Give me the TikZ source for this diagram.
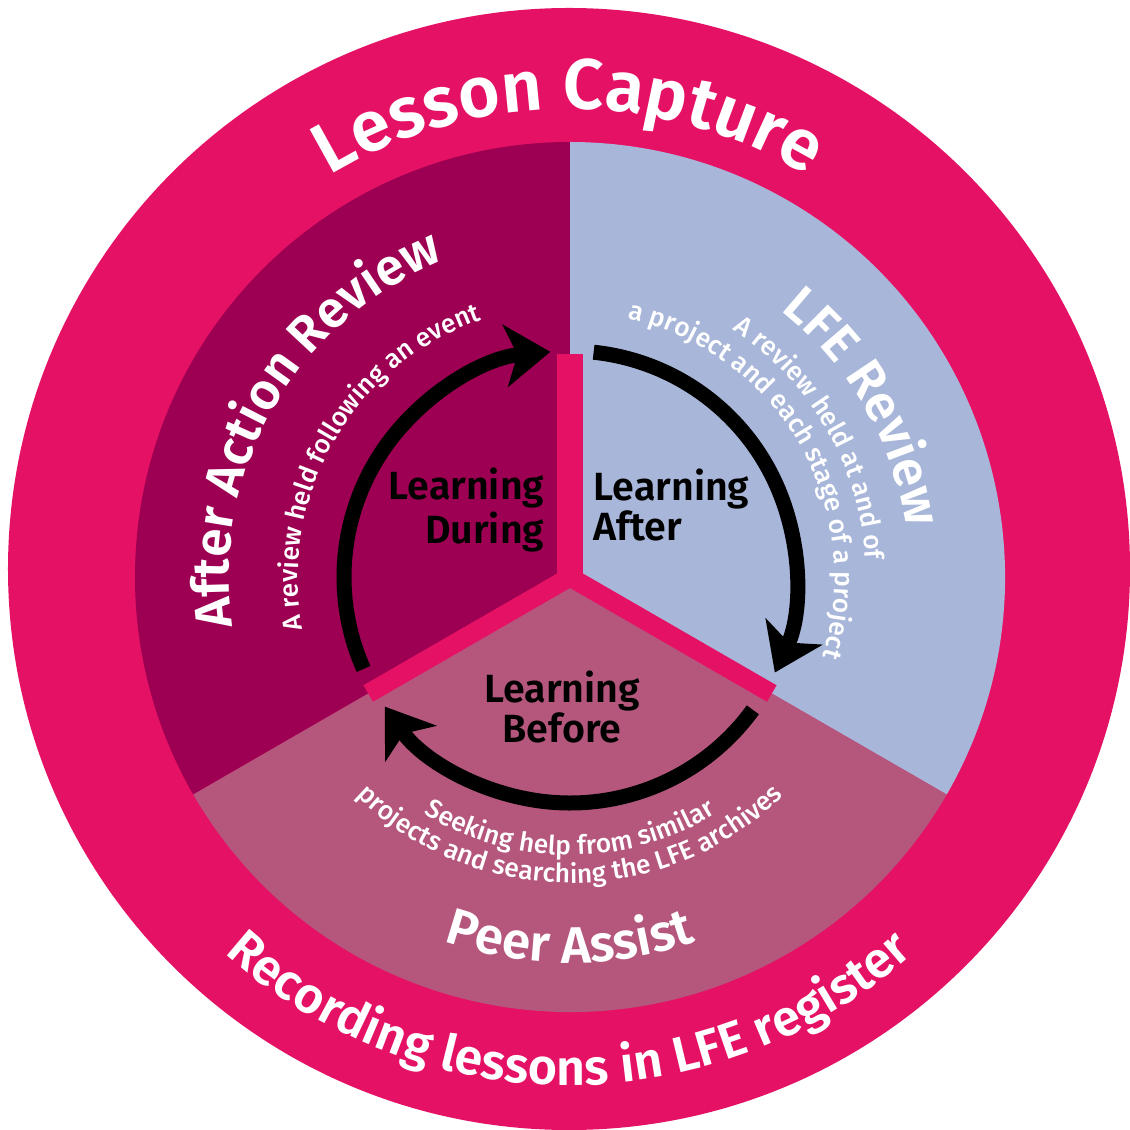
\documentclass[tikz,border=0pt]{standalone}
\usepackage{fontspec}
\setmainfont{Fira Sans}[BoldFont={Fira Sans SemiBold}]
\newfontfamily\notefamily{Fira Sans Medium}
\usetikzlibrary{arrows.meta,decorations.text}

\definecolor{ringpink}{RGB}{229,17,101}
\definecolor{aarpurple}{RGB}{157,0,82}
\definecolor{lfeblue}{RGB}{168,183,217}
\definecolor{peermauve}{RGB}{181,86,125}

\newcommand\ringfont{\color{white}\fontsize{20.3}{20.3}\selectfont\bfseries}
\newcommand\bandfont{\color{white}\fontsize{14.3}{14.3}\selectfont\bfseries}
\newcommand\sectfont{\color{white}\fontsize{14.6}{14.6}\selectfont\bfseries}
\newcommand\notefont{\color{white}\fontsize{7.5}{7.5}\selectfont\notefamily}

\begin{document}
\begin{tikzpicture}
    \tikzset{
        sector/.style={fill=#1},
        divider/.style={draw=ringpink, line width=#1, line cap=butt, line join=miter},
        cyclearrow/.style={line width=0.15cm, -{Stealth[length=0.45cm,width=0.62cm,inset=0.12cm]}},
        hub/.style={font=\fontsize{11.2}{11.4}\selectfont\bfseries, inner sep=0pt},
        arctext/.style={decorate, decoration={text along path, text align=center, text={#1}}},}
    \useasboundingbox (-5.70,-5.52) rectangle (5.60,5.77);
    \fill[white] (-5.70,-5.52) rectangle (5.60,5.77);
    \coordinate (hubcentre) at (0,0);
    \fill[ringpink] (-0.01,0.08) circle (5.61);
    % the three sectors
    \fill[sector=aarpurple] (hubcentre) -- (90:4.35) arc[start angle=90, end angle=210, radius=4.35] -- cycle;
    \fill[sector=lfeblue] (hubcentre) -- (-30:4.35) arc[start angle=-30, end angle=90, radius=4.35] -- cycle;
    \fill[sector=peermauve] (hubcentre) -- (210:4.35) arc[start angle=210, end angle=330, radius=4.35] -- cycle;
    % cycle arrows
    \draw[cyclearrow] (204:2.26) arc[start angle=204, end angle=95, radius=2.26];
    \draw[cyclearrow] (84:2.26) arc[start angle=84, end angle=-25, radius=2.26];
    \draw[cyclearrow] (-36:2.26) arc[start angle=-36, end angle=-145, radius=2.26];
    \draw[divider=0.19cm] (210:2.33) -- (hubcentre) -- (330:2.33);
    \draw[divider=0.26cm] (hubcentre) -- (90:2.23);
    \node[hub, anchor=east, align=right] (during) at (-0.25,0.67) {Learning\\During};
    \node[hub, anchor=west, align=left] (after) at (0.23,0.72) {Learning\\After};
    \node[hub, align=center] (before) at (-0.08,-1.30) {Learning\\Before};
    % outer band
    \begin{scope}[shift={(-0.01,0.08)}]
        \path[arctext={|\ringfont|Lesson Capture}] (150:4.60) arc[start angle=150, end angle=30, radius=4.60];
        \path[arctext={|\bandfont|Recording lessons in LFE register}] (205:5.16) arc[start angle=205, end angle=335, radius=5.16];
    \end{scope}
    % sector titles and notes
    \path[arctext={|\sectfont|After Action Review}] (205:3.41) arc[start angle=205, end angle=95, radius=3.41];
    \path[arctext={|\notefont|A review held following an event}] (205:2.72) arc[start angle=205, end angle=95, radius=2.72];
    \path[arctext={|\sectfont|LFE Review}] (85:3.40) arc[start angle=85, end angle=-25, radius=3.40];
    \path[arctext={|\notefont|A review held at and of}] (85:2.96) arc[start angle=85, end angle=-25, radius=2.96];
    \path[arctext={|\notefont|a project and each stage of a project}] (85:2.65) arc[start angle=85, end angle=-25, radius=2.65];
    \path[arctext={|\sectfont|Peer Assist}] (215:3.86) arc[start angle=215, end angle=325, radius=3.86];
    \path[arctext={|\notefont|Seeking help from similar}] (215:2.78) arc[start angle=215, end angle=325, radius=2.78];
    \path[arctext={|\notefont|projects and searching the LFE archives}] (215:3.06) arc[start angle=215, end angle=325, radius=3.06];
\end{tikzpicture}
\end{document}
